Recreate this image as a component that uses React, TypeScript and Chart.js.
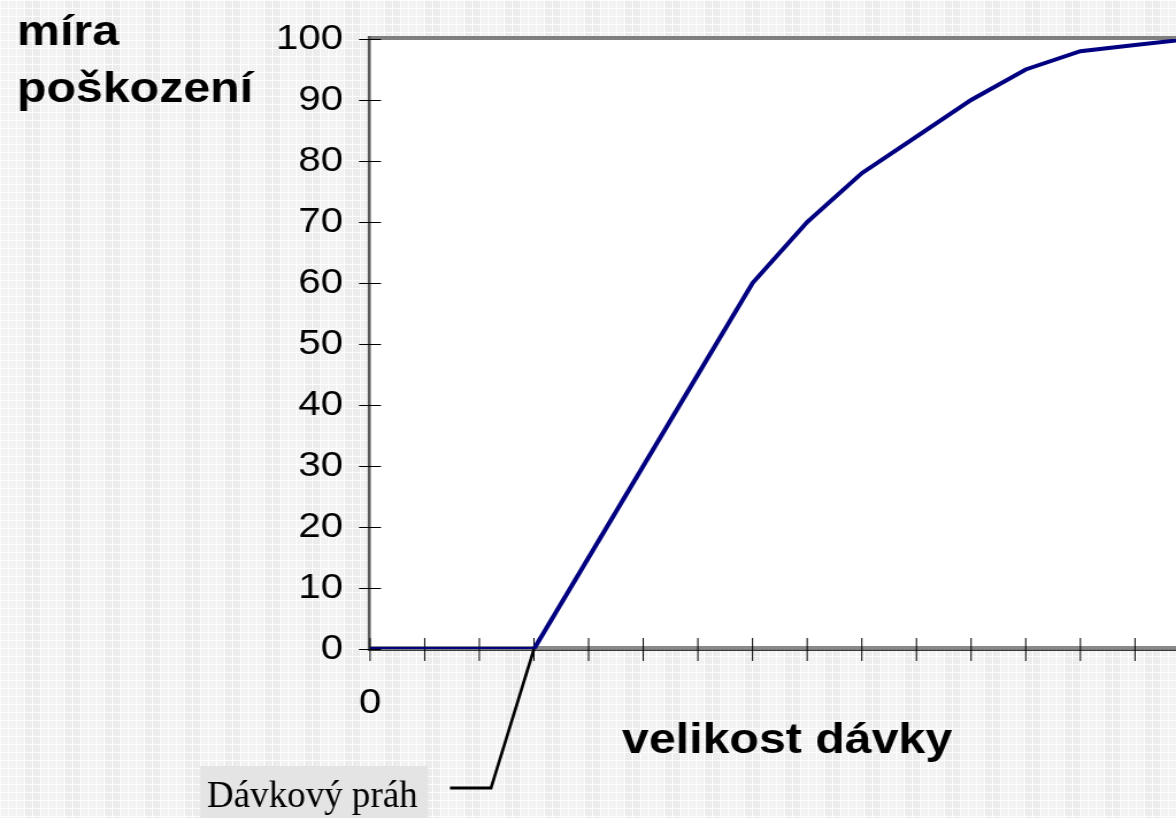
import React, { useEffect, useRef } from "react";
import { Chart, registerables } from "chart.js";

Chart.register(...registerables);

// ---- data ----
const doseValues = [0, 1, 2, 3, 4, 5, 6, 7, 8, 9, 10, 11, 12, 13, 14, 15];
const damageValues = [0, 0, 0, 0, 15, 30, 45, 60, 70, 78, 84, 90, 95, 98, 99, 100];
const yTickValues = [0, 10, 20, 30, 40, 50, 60, 70, 80, 90, 100];
const xTickLabels = ["0"];
const yAxisTitleLines = ["míra", "poškození"];
const xAxisTitle = "velikost dávky";
const thresholdLabel = "Dávkový práh";
const thresholdDose = 3;

// logical canvas (stretched horizontally to the page width, like the original embedded chart)
const W = 1023;
const H = 818;
const S = 1176 / W;

export default function App() {
  const ref = useRef<HTMLCanvasElement | null>(null);

  useEffect(() => {
    const canvas = ref.current;
    if (!canvas) return;

    const deco = {
      id: "deco",
      beforeDraw(chart: any) {
        const { ctx, chartArea: a } = chart;
        ctx.save();
        ctx.fillStyle = "#ffffff";
        ctx.fillRect(a.left, a.top, a.right - a.left, a.bottom - a.top);
        ctx.restore();
      },
      beforeDatasetsDraw(chart: any) {
        const { ctx, chartArea: a } = chart;
        const xs = chart.scales.x;
        const ys = chart.scales.y;
        ctx.save();
        // top border
        ctx.fillStyle = "#808080";
        ctx.fillRect(a.left, a.top - 3, a.right - a.left, 4);
        // bottom border
        ctx.fillStyle = "#8a8a8a";
        ctx.fillRect(a.left, a.bottom - 3, a.right - a.left, 3.5);
        ctx.fillStyle = "#3a3a3a";
        ctx.fillRect(a.left, a.bottom + 0.5, a.right - a.left, 1.5);
        // left border
        ctx.fillStyle = "#5a5a5a";
        ctx.fillRect(a.left - 2, a.top - 3, 2.6, a.bottom - a.top + 5);
        // y tick marks (crossing the axis)
        ctx.strokeStyle = "#000000";
        ctx.lineWidth = 1;
        ys.ticks.forEach((t: any) => {
          const y = Math.round(ys.getPixelForValue(t.value)) + 0.5;
          ctx.beginPath();
          ctx.moveTo(a.left - 9.6, y);
          ctx.lineTo(a.left + 9.5, y);
          ctx.stroke();
        });
        // x tick marks (crossing the axis)
        xs.ticks.forEach((t: any) => {
          const x = xs.getPixelForValue(t.value);
          ctx.beginPath();
          ctx.moveTo(x, a.bottom - 11);
          ctx.lineTo(x, a.bottom + 12);
          ctx.stroke();
        });
        ctx.restore();
      },
      afterDraw(chart: any) {
        const { ctx } = chart;
        const xs = chart.scales.x;
        const ys = chart.scales.y;
        ctx.save();
        ctx.fillStyle = "#000000";
        // x tick label "0"
        ctx.font = "35px 'Liberation Sans', Arial, sans-serif";
        ctx.textAlign = "center";
        ctx.textBaseline = "alphabetic";
        ctx.fillText(xTickLabels[0], xs.getPixelForValue(0), 713);
        // axis titles
        ctx.font = "bold 42px 'Liberation Sans', Arial, sans-serif";
        ctx.textAlign = "left";
        ctx.fillText(yAxisTitleLines[0], 17 / S, 45);
        ctx.fillText(yAxisTitleLines[1], 17 / S, 102);
        ctx.fillText(xAxisTitle, 622 / S, 753);

        // annotation (not stretched): draw in page pixels
        ctx.scale(1 / S, 1);
        ctx.fillStyle = "#e4e4e4";
        ctx.fillRect(200, 766, 228, 52);
        ctx.fillStyle = "#000000";
        ctx.font = "37px 'Liberation Serif', 'Times New Roman', serif";
        ctx.textAlign = "left";
        ctx.fillText(thresholdLabel, 207, 807);
        const px = xs.getPixelForValue(thresholdDose) * S;
        const py = ys.getPixelForValue(0);
        ctx.strokeStyle = "#000000";
        ctx.lineWidth = 3;
        ctx.lineJoin = "miter";
        ctx.beginPath();
        ctx.moveTo(450, 788);
        ctx.lineTo(491, 788);
        ctx.lineTo(px, py);
        ctx.stroke();
        ctx.restore();
      },
    };

    const chart = new Chart(canvas, {
      type: "line",
      data: {
        datasets: [
          {
            data: doseValues.map((d, i) => ({ x: d, y: damageValues[i] })),
            borderColor: "#000080",
            borderWidth: 4,
            pointRadius: 0,
            tension: 0,
            fill: false,
          },
        ],
      },
      options: {
        animation: false,
        responsive: false,
        devicePixelRatio: 1,
        layout: { padding: { top: 39, left: 0, right: 0, bottom: 0 } },
        plugins: { legend: { display: false }, tooltip: { enabled: false }, title: { display: false } },
        scales: {
          x: {
            type: "linear",
            min: 0,
            max: 14.75,
            afterFit: (s: any) => {
              s.height = 169;
            },
            ticks: { display: false, stepSize: 1, includeBounds: false },
            grid: { display: false, drawTicks: false },
            border: { display: false },
          },
          y: {
            min: 0,
            max: 100,
            afterFit: (s: any) => {
              s.width = 321.9;
            },
            afterBuildTicks: (s: any) => {
              s.ticks = yTickValues.map((v) => ({ value: v }));
            },
            ticks: {
              color: "#000000",
              padding: 0,
              font: { family: "'Liberation Sans', Arial, sans-serif", size: 35 },
            },
            grid: { display: false, drawTicks: true, tickLength: 23.5 },
            border: { display: false },
          },
        },
      },
      plugins: [deco],
    });
    return () => chart.destroy();
  }, []);

  return (
    <div
      style={{
        position: "fixed",
        left: 0,
        top: 0,
        width: "1176px",
        height: "818px",
        overflow: "hidden",
        backgroundColor: "#ececec",
        backgroundImage:
          "linear-gradient(to right, rgba(255,255,255,0.85) 1px, transparent 1px), linear-gradient(to bottom, rgba(255,255,255,0.85) 1px, transparent 1px), repeating-linear-gradient(to right, rgba(255,255,255,0.35) 0px, rgba(255,255,255,0.35) 24px, transparent 24px, transparent 40px)",
        backgroundSize: "8px 8px, 8px 8px, 100% 100%",
      }}
    >
      <canvas ref={ref} width={W} height={H} style={{ width: "1176px", height: "818px", display: "block" }} />
    </div>
  );
}
